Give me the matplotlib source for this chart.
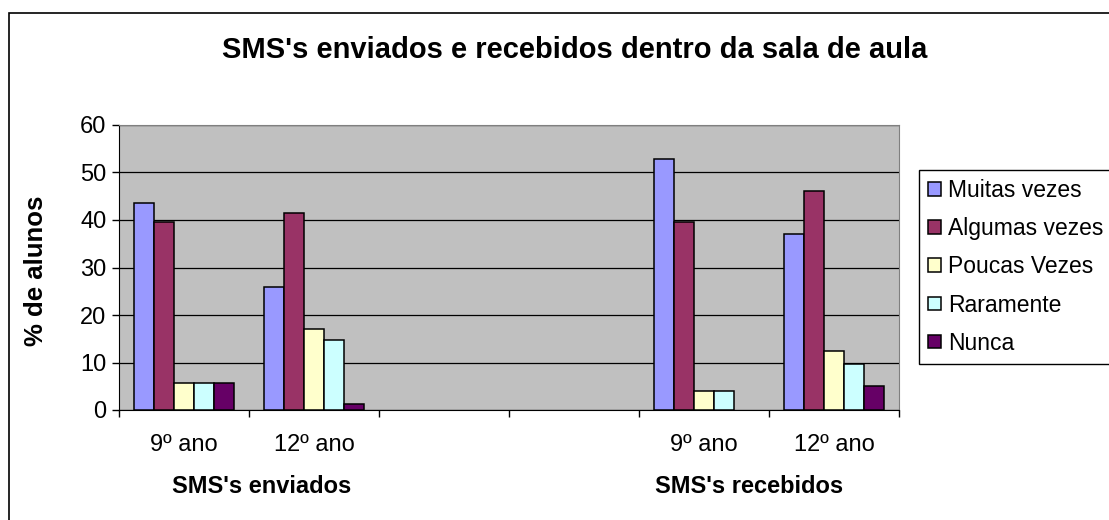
import numpy as np
import matplotlib
matplotlib.use("Agg")
import matplotlib.pyplot as plt
from matplotlib.patches import Rectangle
from matplotlib.transforms import blended_transform_factory

plt.rcParams['font.family'] = ['Liberation Sans', 'DejaVu Sans']

# categories along the x axis (two empty slots between the groups)
categories = ["9º ano", "12º ano", "", "", "9º ano", "12º ano"]
groups = ["SMS's enviados", "SMS's recebidos"]
group_x = [0.6, 4.35]

series = ["Muitas vezes", "Algumas vezes", "Poucas Vezes", "Raramente", "Nunca"]
muitas = [43.5, 25.8, np.nan, np.nan, 52.8, 37.0]
algumas = [39.6, 41.5, np.nan, np.nan, 39.6, 46.2]
poucas = [5.75, 17.0, np.nan, np.nan, 3.9, 12.4]
raramente = [5.75, 14.7, np.nan, np.nan, 3.9, 9.6]
nunca = [5.75, 1.2, np.nan, np.nan, np.nan, 5.1]
colors = ["#9999FF", "#993366", "#FFFFCC", "#CCFFFF", "#660066"]

W, H = 1109, 520
fig = plt.figure(figsize=(W / 100, H / 100), dpi=100)
ax = fig.add_axes([119 / W, 1 - 410 / H, 780 / W, 285 / H])
ax.set_facecolor("#C0C0C0")

x = np.arange(len(categories))
bar_w = 0.155
for i, (name, vals) in enumerate(zip(series, [muitas, algumas, poucas, raramente, nunca])):
    vals = np.array(vals, dtype=float)
    ok = ~np.isnan(vals)
    offs = (i - 2) * bar_w
    ax.bar(x[ok] + offs, vals[ok], width=bar_w, color=colors[i],
           edgecolor="black", linewidth=1.1, label=name, zorder=3)

ax.set_xlim(-0.5, len(categories) - 0.5)
ax.set_ylim(0, 60)
ax.set_yticks(range(0, 61, 10))
ax.yaxis.grid(True, color="black", linewidth=0.9, zorder=1)
ax.set_axisbelow(True)

ax.set_xticks(x)
ax.set_xticklabels(categories)
ax.set_xticks(np.arange(-0.5, len(categories), 1.0), minor=True)
ax.tick_params(axis="x", which="major", length=0, pad=17, labelsize=17)
ax.tick_params(axis="x", which="minor", length=5, width=1, direction="out")
ax.tick_params(axis="y", length=5, width=1, direction="out", labelsize=17, pad=4)

for s in ["top", "right"]:
    ax.spines[s].set_color("#808080")
for s in ["left", "bottom"]:
    ax.spines[s].set_color("black")

ax.set_ylabel("% de alunos", fontsize=18.5, fontweight="bold")
ax.yaxis.set_label_coords(-0.091, 0.49)

trans = blended_transform_factory(ax.transData, ax.transAxes)
for gx, g in zip(group_x, groups):
    ax.text(gx, -0.27, g, transform=trans, ha="center", va="center",
            fontsize=17, fontweight="bold")

fig.text(575 / W, 1 - 50 / H, "SMS's enviados e recebidos dentro da sala de aula",
         ha="center", va="center", fontsize=21, fontweight="bold")

leg = ax.legend(loc="upper left", bbox_to_anchor=(919 / W, 1 - 170 / H),
                bbox_transform=fig.transFigure, fontsize=16.5, frameon=True,
                fancybox=False, edgecolor="black", framealpha=1,
                handlelength=0.55, handleheight=0.55, handletextpad=0.3,
                labelspacing=0.66, borderpad=0.4, borderaxespad=0)
leg.get_frame().set_linewidth(1)

fig.patches.append(Rectangle((9 / W, -0.1), 1.2, 1 - 13 / H + 0.1,
                             transform=fig.transFigure, fill=False,
                             edgecolor="black", linewidth=1.2))

fig.savefig("out.png", dpi=100)
